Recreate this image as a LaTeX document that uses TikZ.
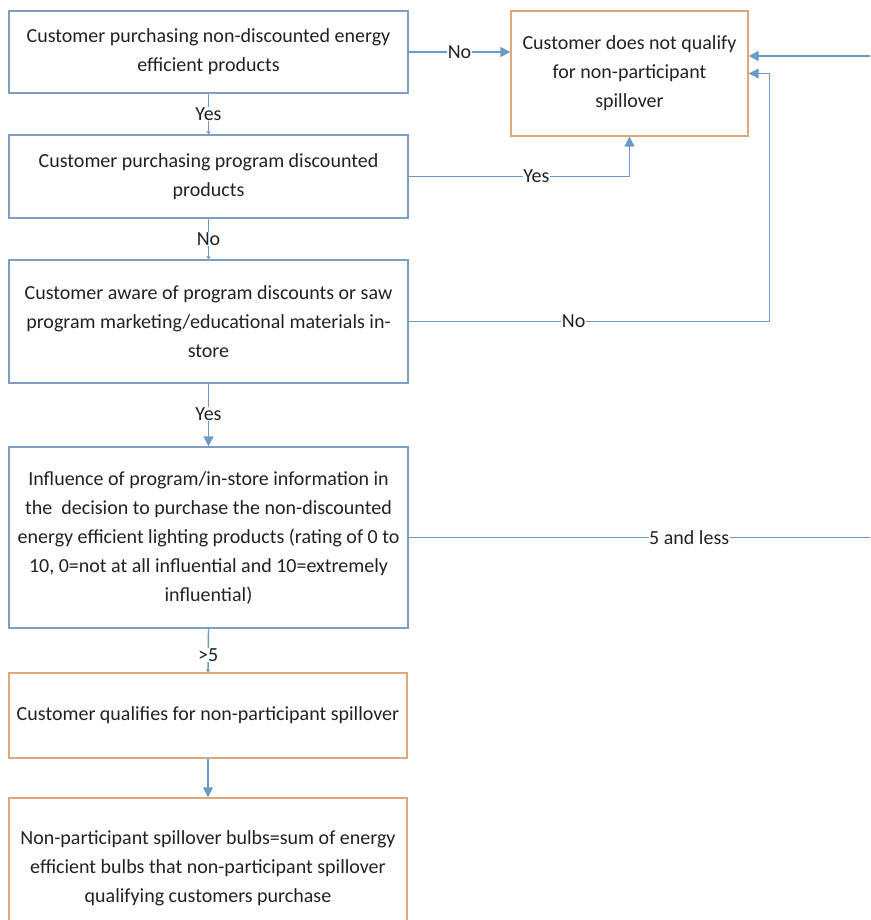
\documentclass[tikz,border=0pt]{standalone}
\usepackage{fontspec}
\setmainfont{Carlito}
\usetikzlibrary{arrows.meta,calc}
\definecolor{bluebox}{HTML}{7E9EC2}
\definecolor{orangebox}{HTML}{DDA77A}
\definecolor{linkblue}{HTML}{6A9ACA}
\definecolor{txt}{HTML}{222222}
\tikzset{
  boxbase/.style={rectangle, line width=1.4pt, fill=white, align=center, text=txt,
    font={\fontsize{20}{29}\selectfont}, inner sep=0pt},
  bluebx/.style={boxbase, draw=bluebox},
  orangebx/.style={boxbase, draw=orangebox},
  link/.style={draw=linkblue, line width=1.4pt},
  arr/.style={link, -{Triangle[length=10pt,width=10pt]}},
  tinyarr/.style={link, -{Triangle[length=3pt,width=4pt]}},
  lbl/.style={fill=white, text=txt, inner sep=0.5pt, font={\fontsize{20}{24}\selectfont}}
}
\begin{document}
\begin{tikzpicture}[x=1pt,y=-1pt]
\useasboundingbox (0,0) rectangle (870,920);
\clip (0,0) rectangle (870,920);
\fill[white] (0,0) rectangle (870,920);

\node[bluebx, minimum width=399pt, minimum height=82pt] (b1) at (208.5,52)
  {Customer purchasing non-discounted energy\\efficient products};
\node[bluebx, minimum width=399pt, minimum height=83pt] (b2) at (208.5,176.5)
  {Customer purchasing program discounted\\products};
\node[bluebx, minimum width=399pt, minimum height=123pt] (b3) at (208.5,321.5)
  {Customer aware of program discounts or saw\\program marketing/educational materials in-\\store};
\node[bluebx, minimum width=399pt, minimum height=181pt] (b4) at (208.5,537.5)
  {Influence of program/in-store information in\\the~ decision to purchase the non-discounted\\energy efficient lighting products (rating of 0 to\\10, 0=not at all influential and 10=extremely\\influential)};
\node[orangebx, minimum width=398pt, minimum height=85pt] (b5) at (208,715.5)
  {Customer qualifies for non-participant spillover};
\node[orangebx, minimum width=398pt, minimum height=140pt] (b6) at (208,868)
  {Non-participant spillover bulbs=sum of energy\\efficient bulbs that non-participant spillover\\qualifying customers purchase};
\node[orangebx, minimum width=237pt, minimum height=125pt] (rb) at (629.5,73.5)
  {Customer does not qualify\\for non-participant\\spillover};

\coordinate (e1) at (870,56);
\coordinate (e4) at (870,537.5);

% vertical flow
\draw[tinyarr] (b1.south) -- node[lbl] {Yes} (b2.north);
\draw[tinyarr] (b2.south) -- node[lbl] {No} (b3.north);
\draw[arr] (b3.south) -- node[lbl, pos=0.48] {Yes} (b4.north);
\draw[tinyarr] (b4.south) -- node[lbl, pos=0.6] {>5} (b5.north);
\draw[arr] (b5.south) -- (b6.north);

% to right box
\draw[arr] (b1.east) -- node[lbl] {No} (b1.east -| rb.west);
\draw[arr] (b2.east) -| node[lbl, pos=0.289] {Yes} (rb.south);
\draw[arr] (b3.east) -| node[lbl, pos=0.2285] {No} ($(rb.east)+(21,0)$) -- (rb.east);
\draw[link] (b4.east) -- node[lbl, pos=0.608] {5 and less} (e4);
\draw[arr] (e1) -- (e1 -| rb.east);
\end{tikzpicture}
\end{document}
